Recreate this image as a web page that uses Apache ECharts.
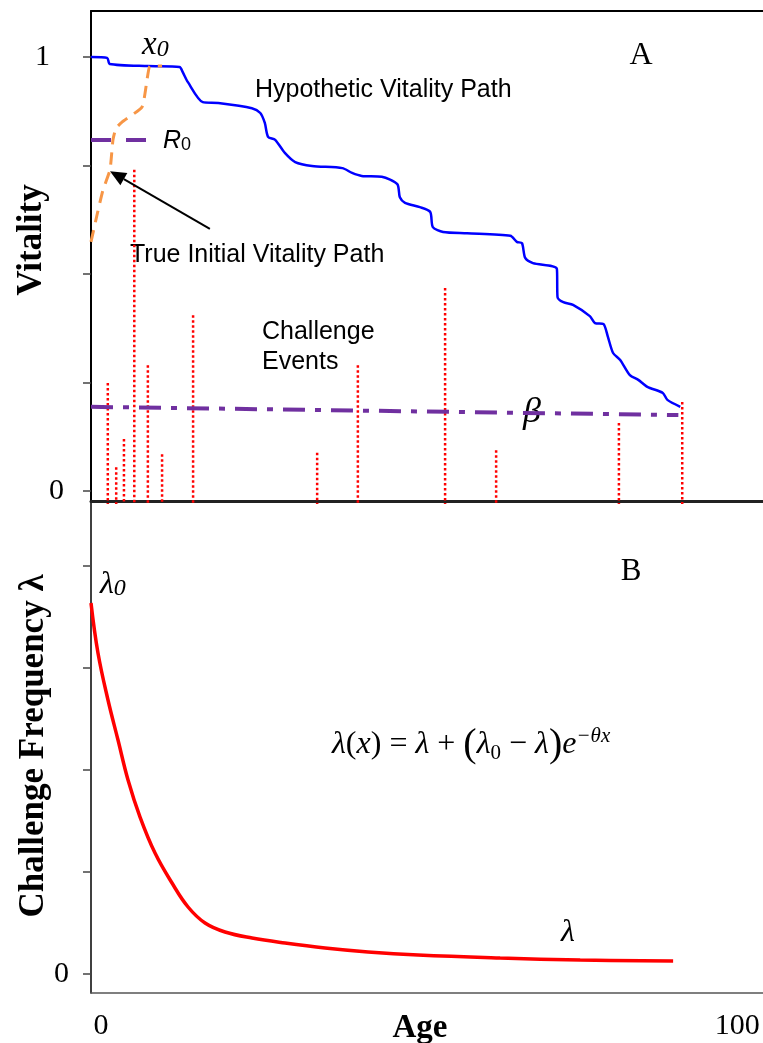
<!DOCTYPE html>
<html><head><meta charset="utf-8">
<script src="https://cdn.jsdelivr.net/npm/echarts@6/dist/echarts.min.js"></script>
<style>html,body{margin:0;padding:0;background:#fff}#c{width:763px;height:1043px}</style>
</head><body><div id="c"></div>
<script>
// ---- data (Age, value) ----
const vitalityPath = [[0,1.0],[2.5,0.998],[2.9,0.984],[8.8,0.979],[13.7,0.977],[14.2,0.965],[15.0,0.942],[17.3,0.896],[19.7,0.894],[24.9,0.882],[26.2,0.871],[26.9,0.848],[27.4,0.816],[28.5,0.809],[30.0,0.779],[31.6,0.758],[34.2,0.749],[38.9,0.744],[40.4,0.733],[41.9,0.726],[45.0,0.724],[47.4,0.707],[47.8,0.677],[48.6,0.664],[50.9,0.654],[52.5,0.643],[52.9,0.608],[54.5,0.597],[58.2,0.594],[64.9,0.588],[65.9,0.574],[66.7,0.571],[67.2,0.537],[68.4,0.525],[72.1,0.512],[72.2,0.447],[73.1,0.435],[74.6,0.429],[77.2,0.403],[78.0,0.387],[79.3,0.385],[80.0,0.355],[80.8,0.318],[81.9,0.302],[83.4,0.267],[84.7,0.256],[86.1,0.240],[88.5,0.226],[89.2,0.210],[91.2,0.194]];
const initialPath = [[0,0.574],[0.93,0.636],[1.86,0.694],[2.94,0.740],[3.4,0.809],[3.87,0.836],[4.8,0.850],[7.9,0.885],[8.67,0.947],[9.13,0.979],[11.0,0.979]];
const r0Line = [[0,0.809],[8.8,0.809]];
const betaLine = [[0,0.194],[90.9,0.175]];
const eventAges = [2.6,3.9,5.1,6.7,8.8,11.0,15.8,35.0,41.3,54.8,62.7,81.7,91.5];
const eventHeights = [0.249,0.055,0.12,0.74,0.29,0.085,0.405,0.088,0.29,0.468,0.094,0.157,0.205];
const arrowFrom = [18.4,0.604];
const arrowTo = [2.94,0.737];
const lambdaCurve = [[0,3.637],[1.08,3.147],[2.63,2.686],[4.18,2.294],[5.73,1.902],[7.59,1.539],[9.91,1.186],[12.54,0.892],[15.02,0.657],[17.65,0.500],[20.74,0.412],[24.92,0.353],[30.03,0.304],[36.22,0.255],[42.88,0.216],[50.62,0.186],[63.31,0.157],[75.7,0.137],[90.09,0.127]];
const vitalityTicks = [0,0.25,0.5,0.75,1];
const vitalityLabels = [0,1];
const lambdaTicks = [0,1,2,3,4];
const lambdaLabels = [0];
const ageLabels = [0,100];

const SERIF = 'Liberation Serif', SANS = 'Liberation Sans';
const V_MIN = -0.023, V_MAX = 1.106, L_MIN = -0.186, L_MAX = 4.627, A_MAX = 104;

const chart = echarts.init(document.getElementById('c'));
const tickStyle = {show:true, inside:false, length:8, lineStyle:{color:'#444', width:1.5}};
chart.setOption({
  animation:false,
  backgroundColor:'#fff',
  grid:[{left:91, right:0, top:11, height:490},{left:91, right:0, top:502, height:491}],
  xAxis:[
    {type:'value', gridIndex:0, min:0, max:A_MAX, position:'bottom',
     axisLine:{show:true, onZero:false, lineStyle:{color:'#222', width:3}},
     axisTick:{show:false}, axisLabel:{show:false}, splitLine:{show:false}},
    {type:'value', gridIndex:0, min:0, max:A_MAX, position:'top',
     axisLine:{show:true, onZero:false, lineStyle:{color:'#000', width:2}},
     axisTick:{show:false}, axisLabel:{show:false}, splitLine:{show:false}},
    {type:'value', gridIndex:1, min:0, max:A_MAX, position:'bottom',
     axisLine:{show:true, onZero:false, lineStyle:{color:'#555', width:1.5}},
     axisTick:{show:false}, splitLine:{show:false},
     axisLabel:{customValues:ageLabels, margin:18, color:'#000', fontFamily:SERIF, fontSize:30,
       formatter:v => v === 0 ? '{z|0}' : String(v),
       rich:{z:{fontFamily:SERIF, fontSize:30, color:'#000', padding:[0,0,0,20]}}}}
  ],
  yAxis:[
    {type:'value', gridIndex:0, min:V_MIN, max:V_MAX,
     axisLine:{show:true, onZero:false, lineStyle:{color:'#000', width:2}},
     axisTick:Object.assign({customValues:vitalityTicks}, tickStyle),
     splitLine:{show:false},
     axisLabel:{customValues:vitalityLabels, margin:27, color:'#000', fontFamily:SERIF, fontSize:30,
       formatter:v => v === 1 ? '{o|1}' : String(v),
       rich:{o:{fontFamily:SERIF, fontSize:30, color:'#000', padding:[0,14,0,0]}}}},
    {type:'value', gridIndex:1, min:L_MIN, max:L_MAX,
     axisLine:{show:true, onZero:false, lineStyle:{color:'#000', width:1.5}},
     axisTick:Object.assign({customValues:lambdaTicks}, tickStyle),
     splitLine:{show:false},
     axisLabel:{customValues:lambdaLabels, margin:22, color:'#000', fontFamily:SERIF, fontSize:30}}
  ],
  series:[
    {type:'custom', xAxisIndex:0, yAxisIndex:0, silent:true,
     data:eventAges.map((a,i)=>[a, eventHeights[i]]),
     encode:{x:0, y:1},
     renderItem:(params, api)=>{
       const t = api.coord([api.value(0), api.value(1)]);
       const b = api.coord([api.value(0), V_MIN]);
       return {type:'line', shape:{x1:t[0], y1:t[1], x2:b[0], y2:b[1]+3},
               style:{stroke:'#FF0000', lineWidth:2.5, lineDash:[2.5,2.5]}};
     }},
    {type:'line', xAxisIndex:0, yAxisIndex:0, data:betaLine, symbol:'none', silent:true,
     lineStyle:{color:'#7030A0', width:4, type:[22,10,6,10]}},
    {type:'line', xAxisIndex:0, yAxisIndex:0, data:r0Line, symbol:'none', silent:true,
     lineStyle:{color:'#7030A0', width:4, type:[20,15]}},
    {type:'line', xAxisIndex:0, yAxisIndex:0, data:vitalityPath, symbol:'none', smooth:0.25, silent:true,
     lineStyle:{color:'#0000FF', width:2.5}},
    {type:'line', xAxisIndex:0, yAxisIndex:0, data:initialPath, symbol:'none', smooth:0.15, silent:true,
     lineStyle:{color:'#F79646', width:3, type:[12,8]}},
    {type:'custom', xAxisIndex:0, yAxisIndex:0, silent:true, clip:false,
     data:[[arrowFrom[0], arrowFrom[1], arrowTo[0], arrowTo[1]]],
     encode:{x:[0,2], y:[1,3]},
     renderItem:(params, api)=>{
       const p0 = api.coord([api.value(0), api.value(1)]);
       const p1 = api.coord([api.value(2), api.value(3)]);
       const dx = p1[0]-p0[0], dy = p1[1]-p0[1], L = Math.hypot(dx,dy);
       const ux = dx/L, uy = dy/L, hl = 16, hw = 7;
       const bx = p1[0]-ux*hl, by = p1[1]-uy*hl;
       return {type:'group', children:[
         {type:'line', shape:{x1:p0[0], y1:p0[1], x2:bx, y2:by}, style:{stroke:'#000', lineWidth:2}},
         {type:'polygon', shape:{points:[[p1[0],p1[1]],[bx-uy*hw, by+ux*hw],[bx+uy*hw, by-ux*hw]]}, style:{fill:'#000'}}
       ]};
     }},
    {type:'line', xAxisIndex:2, yAxisIndex:1, data:lambdaCurve, symbol:'none', smooth:0.4, silent:true,
     lineStyle:{color:'#FF0000', width:3.5}}
  ],
  graphic:[
    {type:'text', x:142, y:45, style:{text:'{i|x}{s|0}', textVerticalAlign:'middle',
      rich:{i:{fontFamily:SERIF, fontStyle:'italic', fontSize:33, lineHeight:34},
            s:{fontFamily:SERIF, fontStyle:'italic', fontSize:24, verticalAlign:'bottom', lineHeight:24}}}},
    {type:'text', x:641, y:56, style:{text:'A', font:'32px "Liberation Serif"', fill:'#000', textAlign:'center', textVerticalAlign:'middle'}},
    {type:'text', x:255, y:90, style:{text:'Hypothetic Vitality Path', font:'25px "Liberation Sans"', fill:'#000', textVerticalAlign:'middle'}},
    {type:'text', x:163, y:141, style:{text:'{i|R}{s|0}', textVerticalAlign:'middle',
      rich:{i:{fontFamily:SANS, fontStyle:'italic', fontSize:25, lineHeight:26},
            s:{fontFamily:SANS, fontSize:18, verticalAlign:'bottom', lineHeight:18}}}},
    {type:'text', x:130, y:255, style:{text:'True Initial Vitality Path', font:'25px "Liberation Sans"', fill:'#000', textVerticalAlign:'middle'}},
    {type:'text', x:262, y:347, style:{text:'Challenge\nEvents', font:'25px "Liberation Sans"', lineHeight:30, fill:'#000', textVerticalAlign:'middle'}},
    {type:'text', x:532, y:413, style:{text:'β', font:'italic 36px "Liberation Serif"', fill:'#000', textAlign:'center', textVerticalAlign:'middle'}},
    {type:'text', x:100, y:585, style:{text:'{i|λ}{s|0}', textVerticalAlign:'middle',
      rich:{i:{fontFamily:SERIF, fontStyle:'italic', fontSize:32, lineHeight:32},
            s:{fontFamily:SERIF, fontStyle:'italic', fontSize:24, verticalAlign:'bottom', lineHeight:22}}}},
    {type:'text', x:631, y:572, style:{text:'B', font:'31px "Liberation Serif"', fill:'#000', textAlign:'center', textVerticalAlign:'middle'}},
    {type:'text', x:332, y:745, style:{
      text:'{i|λ}{n|(}{i|x}{n|) = }{i|λ}{n| + }{p|(}{i|λ}{sb|0}{n| − }{i|λ}{p|)}{i|e}{sp|−θx}',
      textVerticalAlign:'middle',
      rich:{i:{fontFamily:SERIF, fontStyle:'italic', fontSize:32, lineHeight:38},
            n:{fontFamily:SERIF, fontSize:32, lineHeight:38},
            p:{fontFamily:SERIF, fontSize:40, lineHeight:38},
            sb:{fontFamily:SERIF, fontSize:21, verticalAlign:'bottom', lineHeight:20},
            sp:{fontFamily:SERIF, fontStyle:'italic', fontSize:21, verticalAlign:'top', lineHeight:18}}}},
    {type:'text', x:568, y:933, style:{text:'λ', font:'italic 32px "Liberation Serif"', fill:'#000', textAlign:'center', textVerticalAlign:'middle'}},
    {type:'text', x:32, y:240, rotation:Math.PI/2, style:{text:'Vitality', font:'bold 35px "Liberation Serif"', fill:'#000', textAlign:'center', textVerticalAlign:'middle'}},
    {type:'text', x:34, y:746, rotation:Math.PI/2, style:{text:'Challenge Frequency λ', font:'bold 35px "Liberation Serif"', fill:'#000', textAlign:'center', textVerticalAlign:'middle'}},
    {type:'text', x:420, y:1028, style:{text:'Age', font:'bold 33px "Liberation Serif"', fill:'#000', textAlign:'center', textVerticalAlign:'middle'}}
  ]
});
</script></body></html>
